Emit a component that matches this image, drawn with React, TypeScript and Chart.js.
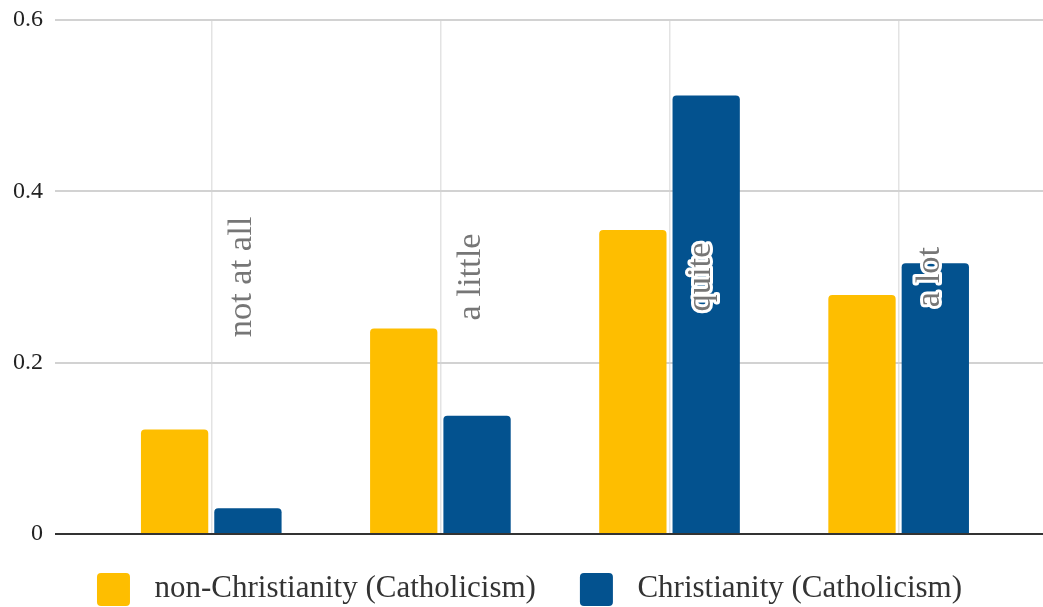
import React, { useEffect, useRef } from "react";
import { Chart, registerables } from "chart.js";

Chart.register(...registerables);

// Response categories, drawn as rotated labels inside the plot
const categories = ["not at all", "a little", "quite", "a lot"];

// Share of respondents per category
const nonChristianity = [0.122, 0.24, 0.355, 0.279];
const christianity = [0.03, 0.138, 0.512, 0.316];

const seriesNames = ["non-Christianity (Catholicism)", "Christianity (Catholicism)"];
const seriesColors = ["#FEBE00", "#03528F"];

// y-axis ticks
const yTicks = [0, 0.2, 0.4, 0.6];

const SERIF = "'Liberation Serif', 'Times New Roman', serif";

// Rotated category names centred vertically in the plot, beside each group centre
const categoryLabelPlugin = {
  id: "categoryLabels",
  afterDatasetsDraw(chart: any) {
    const { ctx, chartArea, scales } = chart;
    const xs = scales.x;
    const midY = (chartArea.top + chartArea.bottom) / 2;
    ctx.save();
    ctx.font = `34.5px ${SERIF}`;
    ctx.textAlign = "center";
    ctx.textBaseline = "alphabetic";
    ctx.lineJoin = "round";
    categories.forEach((name, i) => {
      const x = xs.getPixelForValue(i) + 40;
      ctx.save();
      ctx.translate(x, midY);
      ctx.rotate(-Math.PI / 2);
      ctx.strokeStyle = "#ffffff";
      ctx.lineWidth = 6;
      ctx.strokeText(name, 0, 0);
      ctx.fillStyle = "#767676";
      ctx.fillText(name, 0, 0);
      ctx.restore();
    });
    ctx.restore();
  },
};

// Legend row under the plot, built from the datasets
const legendPlugin = {
  id: "bottomLegend",
  afterDraw(chart: any) {
    const { ctx, width, height } = chart;
    const box = 33;
    const boxGap = 24.5;
    const itemGap = 44;
    const shift = 8;
    ctx.save();
    ctx.font = `31px ${SERIF}`;
    const items = chart.data.datasets.map((ds: any) => ({
      text: ds.label as string,
      color: ds.backgroundColor as string,
      w: ctx.measureText(ds.label).width,
    }));
    const total =
      items.reduce((s: number, it: any) => s + box + boxGap + it.w, 0) + itemGap * (items.length - 1);
    let x = (width - total) / 2 + shift;
    const boxTop = height - 34;
    items.forEach((it: any) => {
      ctx.fillStyle = it.color;
      ctx.beginPath();
      ctx.roundRect(x, boxTop, box, box, 4);
      ctx.fill();
      ctx.fillStyle = "#333333";
      ctx.textAlign = "left";
      ctx.textBaseline = "alphabetic";
      ctx.fillText(it.text, x + box + boxGap, boxTop + 24);
      x += box + boxGap + it.w + itemGap;
    });
    ctx.restore();
  },
};

export default function App() {
  const canvasRef = useRef<HTMLCanvasElement | null>(null);

  useEffect(() => {
    if (!canvasRef.current) return;
    const toPoints = (vals: number[]) => vals.map((y, i) => ({ x: i, y }));
    const chart = new Chart(canvasRef.current, {
      type: "bar",
      data: {
        datasets: [
          {
            label: seriesNames[0],
            data: toPoints(nonChristianity),
            backgroundColor: seriesColors[0],
            borderRadius: 4,
            borderSkipped: "start",
          },
          {
            label: seriesNames[1],
            data: toPoints(christianity),
            backgroundColor: seriesColors[1],
            borderRadius: 4,
            borderSkipped: "start",
          },
        ] as any,
      },
      options: {
        responsive: false,
        animation: false,
        categoryPercentage: 0.64,
        barPercentage: 0.918,
        layout: { padding: { left: 0, top: 20, right: 0, bottom: 73 } },
        plugins: {
          legend: { display: false },
          tooltip: { enabled: false },
        },
        scales: {
          x: {
            type: "linear",
            offset: false,
            min: -0.682,
            max: 3.63,
            afterBuildTicks: (axis: any) => {
              axis.ticks = categories.map((_, i) => ({ value: i }));
            },
            ticks: { display: false },
            grid: { color: "#e3e3e3", lineWidth: 1.5, drawTicks: false, offset: false },
            border: { display: false },
          },
          y: {
            min: 0,
            max: 0.6,
            afterBuildTicks: (axis: any) => {
              axis.ticks = yTicks.map((v) => ({ value: v }));
            },
            afterFit: (axis: any) => {
              axis.width = 55;
              axis.paddingTop = 0;
              axis.paddingBottom = 0;
            },
            ticks: {
              padding: 12,
              color: "#222222",
              font: { family: SERIF, size: 24 },
              callback: (v: any) => String(v),
            },
            grid: {
              drawTicks: false,
              color: (c: any) => (c.tick && c.tick.value === 0 ? "#333333" : "#d2d2d2"),
              lineWidth: 2,
            },
            border: { display: false },
          },
        },
      } as any,
      plugins: [categoryLabelPlugin, legendPlugin],
    });
    return () => chart.destroy();
  }, []);

  return (
    <div style={{ position: "absolute", left: 0, top: 0, width: 1043, height: 607, background: "#ffffff" }}>
      <canvas ref={canvasRef} width={1043} height={607} />
    </div>
  );
}
